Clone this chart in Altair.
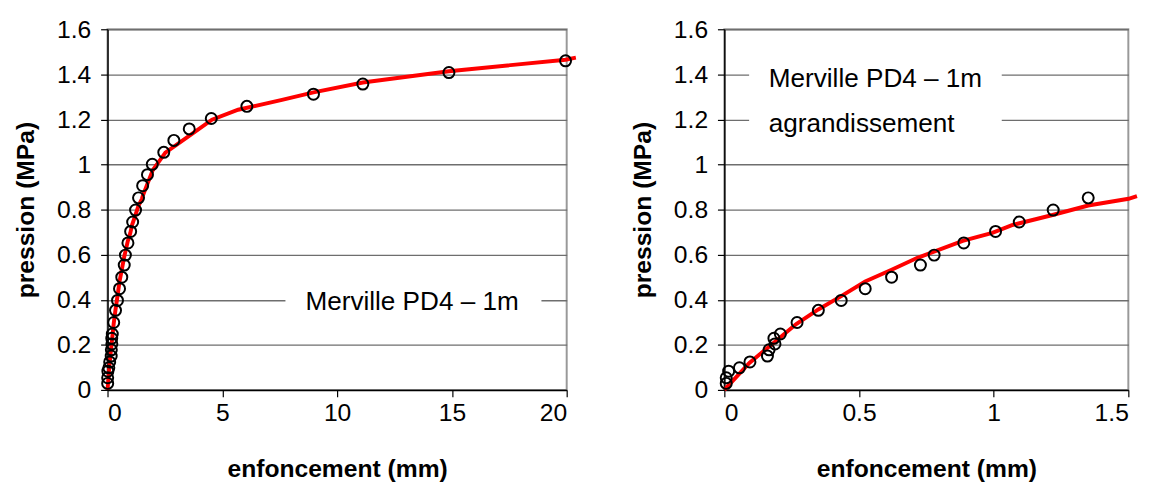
import altair as alt
import pandas as pd

# measured points (enfoncement mm, pression MPa)
pt_x = [0.007, 0.007, 0.016, 0.056, 0.095, 0.160, 0.166, 0.188, 0.184, 0.208,
        0.270, 0.349, 0.434, 0.523, 0.621, 0.728, 0.779, 0.889, 1.007, 1.095,
        1.221, 1.351, 1.53, 1.74, 1.95, 2.45, 2.89, 3.56, 4.52, 6.07,
        8.97, 11.12, 14.87, 19.95]
pt_y = [0.029, 0.054, 0.083, 0.098, 0.124, 0.150, 0.178, 0.204, 0.229, 0.248,
        0.299, 0.353, 0.397, 0.449, 0.500, 0.554, 0.598, 0.652, 0.703, 0.745,
        0.798, 0.852, 0.906, 0.955, 1.001, 1.054, 1.107, 1.158, 1.204, 1.258,
        1.312, 1.357, 1.408, 1.460]

# fitted curve
fit_x = [0, 0.093, 0.178, 0.267, 0.349, 0.434, 0.523, 0.621, 0.715, 0.885,
         0.995, 1.068, 1.215, 1.351, 1.501, 1.532, 1.97, 2.52, 3.54, 4.55,
         5.69, 7.6, 8.97, 11.12, 14.87, 19.95, 20.4]
fit_y = [0, 0.12, 0.204, 0.292, 0.357, 0.416, 0.481, 0.533, 0.585, 0.661,
         0.697, 0.731, 0.775, 0.818, 0.848, 0.86, 0.975, 1.053, 1.126, 1.199,
         1.243, 1.287, 1.32, 1.364, 1.414, 1.465, 1.474]

x_ticks_left = [0, 5, 10, 15, 20]
x_ticks_right = [0, 0.5, 1, 1.5]
y_ticks = [0, 0.2, 0.4, 0.6, 0.8, 1.0, 1.2, 1.4, 1.6]

x_title = "enfoncement (mm)"
y_title = "pression (MPa)"

left_texts = ["Merville PD4 – 1m"]
left_text_x = [8.62]
left_text_y = [0.355]
left_box = {"x": [7.75], "x2": [18.9], "y": [0.35], "y2": [0.45]}

right_texts = ["Merville PD4 – 1m", "agrandissement"]
right_text_x = [0.165, 0.165]
right_text_y = [1.342, 1.145]
right_box = {"x": [0.092], "x2": [1.03], "y": [1.1], "y2": [1.47]}

FONT = "Liberation Sans"

points = pd.DataFrame({"x": pt_x, "y": pt_y})
fit = pd.DataFrame({"x": fit_x, "y": fit_y})


def panel(xmax, xticks, width, height, fit_max, box, tx, ty, tt):
    xs = alt.Scale(domain=[0, xmax], nice=False, zero=True)
    ys = alt.Scale(domain=[0, 1.6], nice=False)
    xax = alt.Axis(values=xticks, format="~g", title=x_title, grid=False,
                   labelPadding=4, titlePadding=32)
    yax = alt.Axis(values=y_ticks, format="~g", title=y_title, grid=True,
                   labelPadding=10, titlePadding=18)
    X = lambda: alt.X("x:Q", scale=xs, axis=xax)
    Y = lambda: alt.Y("y:Q", scale=ys, axis=yax)

    boxes = alt.Chart(pd.DataFrame(box)).mark_rect(color="white").encode(
        x=X(), x2="x2:Q", y=Y(), y2="y2:Q")
    line = alt.Chart(fit).transform_filter(alt.datum.x <= fit_max).mark_line(
        color="#ff0000", strokeWidth=4, clip=False).encode(x=X(), y=Y())
    pts = alt.Chart(points).transform_filter(alt.datum.x <= xmax).mark_point(
        shape="circle", filled=False, color="black", size=125,
        strokeWidth=2, opacity=1).encode(x=X(), y=Y())
    txt = alt.Chart(pd.DataFrame({"x": tx, "y": ty, "t": tt})).mark_text(
        align="left", baseline="alphabetic", font=FONT, fontSize=26.5,
        color="black").encode(x=X(), y=Y(), text="t:N")
    return alt.layer(boxes, line, pts, txt).properties(width=width, height=height)


left = panel(20, x_ticks_left, 466, 366, 100, left_box,
             left_text_x, left_text_y, left_texts)
right = panel(1.5, x_ticks_right, 410, 366, 1.54, right_box,
              right_text_x, right_text_y, right_texts)

chart = alt.hconcat(left, right, spacing=45).properties(
    padding=5
).configure_view(
    stroke="#999999", strokeWidth=2
).configure_axis(
    labelFont=FONT, labelFontSize=25, labelColor="black",
    titleFont=FONT, titleFontSize=25, titleFontWeight="bold", titleColor="black",
    domainColor="black", domainWidth=1.5, tickColor="black", tickSize=7,
    tickWidth=1.2, gridColor="#6e6e6e", gridWidth=1.4
)

chart.save("out.html", embed_options={"renderer": "svg", "actions": False})
